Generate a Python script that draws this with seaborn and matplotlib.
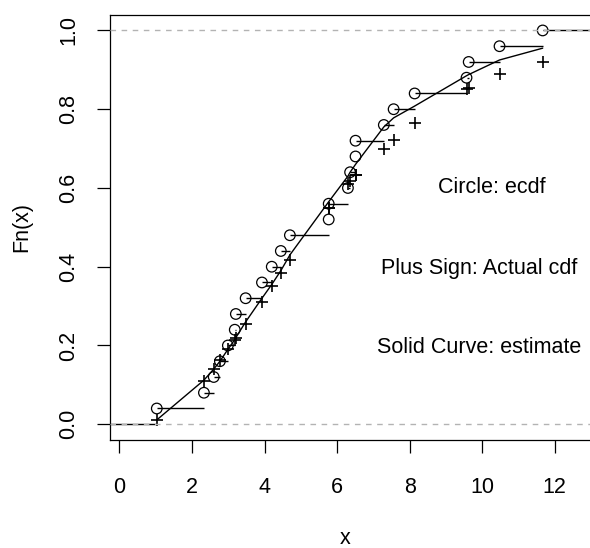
import numpy as np
import pandas as pd
import matplotlib
matplotlib.use("Agg")
import matplotlib.pyplot as plt
import seaborn as sns

# sorted sample values (ties repeated)
x_sorted = [1.03, 2.33, 2.60, 2.77, 2.99, 3.18, 3.21, 3.48, 3.93, 4.20, 4.45, 4.70,
            5.77, 5.77, 6.30, 6.36, 6.51, 6.51, 7.29, 7.56, 8.14, 9.57, 9.63, 10.48, 11.67]
# actual cdf at each sample value
actual_cdf = [0.011, 0.11, 0.14, 0.163, 0.19, 0.214, 0.22, 0.255, 0.31, 0.35, 0.383, 0.416,
              0.548, 0.548, 0.61, 0.617, 0.632, 0.632, 0.70, 0.723, 0.766, 0.852, 0.855, 0.89, 0.92]
# estimated cdf (solid curve) at each sample value
est_cdf = [0.011, 0.112, 0.14, 0.16, 0.19, 0.215, 0.22, 0.26, 0.32, 0.355, 0.39, 0.43,
           0.565, 0.565, 0.63, 0.64, 0.66, 0.66, 0.755, 0.778, 0.808, 0.885, 0.888, 0.925, 0.955]
x_ticks = [0, 2, 4, 6, 8, 10, 12]
y_ticks = [0.0, 0.2, 0.4, 0.6, 0.8, 1.0]
y_ticklabels = ["0.0", "0.2", "0.4", "0.6", "0.8", "1.0"]
notes = ["Circle: ecdf", "Plus Sign: Actual cdf", "Solid Curve: estimate"]

n = len(x_sorted)
ecdf_vals = [(i + 1) / n for i in range(n)]

sns.set_style("white")
plt.rcParams["font.family"] = ["Liberation Sans", "DejaVu Sans"]
plt.rcParams["text.color"] = "black"
plt.rcParams["axes.labelcolor"] = "black"
plt.rcParams["xtick.color"] = "black"
plt.rcParams["ytick.color"] = "black"

FS = 15.5

fig = plt.figure(figsize=(5.90, 5.48), dpi=100)
ax = fig.add_axes([110 / 590, 1 - 440 / 548, (596 - 110) / 590, (440 - 14.7) / 548])

xmin, xmax = -0.26, 13.14
ax.set_xlim(xmin, xmax)
ax.set_ylim(-0.04, 1.04)

df = pd.DataFrame({"x": x_sorted, "fn": ecdf_vals, "F": actual_cdf, "est": est_cdf})

# step segments of the ecdf
ux = sorted(set(x_sorted))
seg_y = [max(v for xv, v in zip(x_sorted, ecdf_vals) if xv == u) for u in ux]
ends = ux[1:] + [xmax + 1]
ax.hlines([0.0], xmin - 1, ux[0], color="black", lw=1)
ax.hlines(seg_y, ux, ends, color="black", lw=1)

# circles at ecdf points
sns.scatterplot(data=df, x="x", y="fn", marker="o", s=58, facecolor="none",
                edgecolor="black", linewidth=0.9, ax=ax, zorder=3)
# plus signs at actual cdf
sns.scatterplot(data=df, x="x", y="F", marker="+", s=70, color="black",
                linewidth=1.2, ax=ax, zorder=3)
# solid estimate curve
sns.lineplot(data=df, x="x", y="est", sort=False, estimator=None, color="black",
             lw=1, ax=ax)

# reference dashed lines
ax.axhline(0, color="#b3b3b3", lw=1, ls=(0, (4, 4)), zorder=4)
ax.axhline(1, color="#b3b3b3", lw=1, ls=(0, (4, 4)), zorder=4)

ax.text(10.26, 0.60, notes[0], ha="center", va="center", fontsize=FS)
ax.text(9.93, 0.396, notes[1], ha="center", va="center", fontsize=FS)
ax.text(9.93, 0.194, notes[2], ha="center", va="center", fontsize=FS)

ax.set_xticks(x_ticks)
ax.set_xticklabels([str(t) for t in x_ticks], fontsize=FS)
ax.set_yticks(y_ticks)
ax.set_yticklabels(y_ticklabels, fontsize=FS, rotation=90, va="center")
ax.tick_params(axis="both", which="major", direction="out", length=9.4, width=0.9,
               color="black", bottom=True, left=True)
ax.tick_params(axis="x", pad=17)
ax.tick_params(axis="y", pad=13)

for s in ax.spines.values():
    s.set_color("black")
    s.set_linewidth(0.9)

ax.set_xlabel("x", fontsize=FS, va="center")
ax.set_ylabel("Fn(x)", fontsize=FS, va="center")
ax.xaxis.set_label_coords(((345 - 110) / (596 - 110)), -(538 - 440) / (440 - 14.7))
ax.yaxis.set_label_coords(-(110 - 22) / (596 - 110), (440 - 227) / (440 - 14.7))
ax.legend_ = None

fig.savefig("out.png", dpi=100)
